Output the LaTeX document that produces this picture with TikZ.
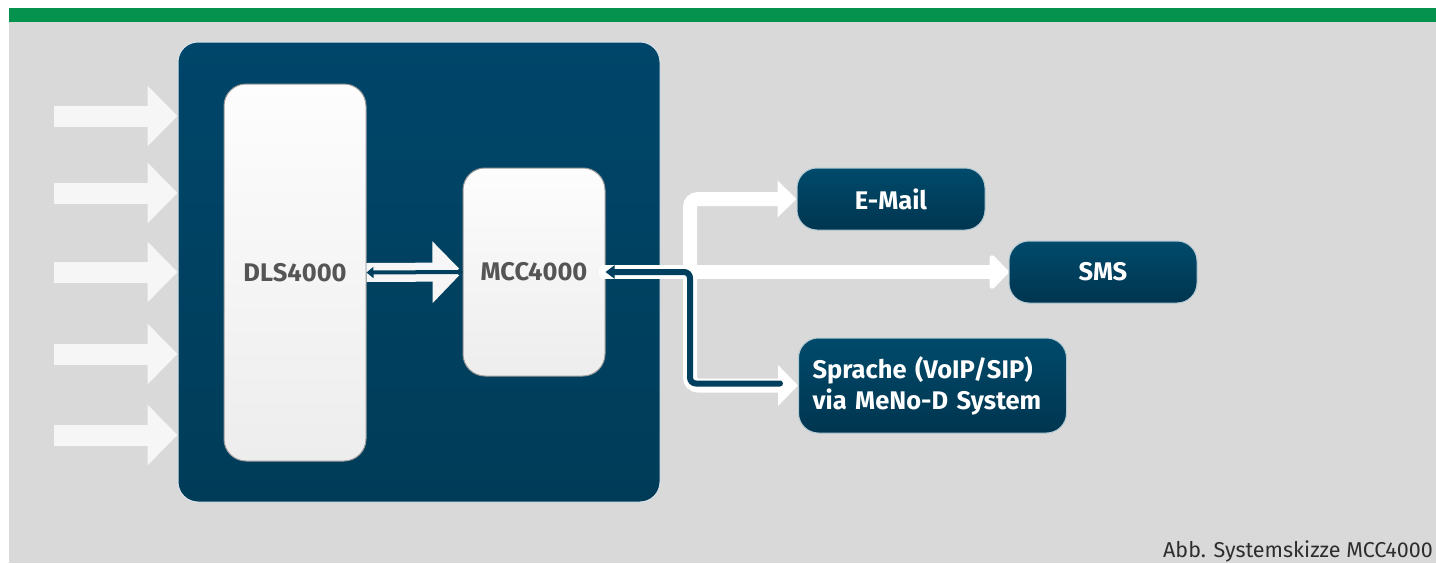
\documentclass[tikz,border=0pt]{standalone}
\usepackage{fontspec}
\setmainfont{Fira Sans}
\usetikzlibrary{arrows.meta,calc}
\definecolor{bggray}{HTML}{D9D9D9}
\definecolor{topgreen}{HTML}{05924E}
\definecolor{navytop}{HTML}{00466A}
\definecolor{navybot}{HTML}{003C58}
\definecolor{navyline}{HTML}{00405E}
\definecolor{outtop}{HTML}{004A6B}
\definecolor{outbot}{HTML}{00354F}
\definecolor{lighttop}{HTML}{FDFDFD}
\definecolor{lightbot}{HTML}{EDEDED}
\definecolor{labelgray}{HTML}{555555}
\definecolor{captiongray}{HTML}{2E2E2E}
\definecolor{arrowwhite}{HTML}{F6F6F6}
\begin{document}
\begin{tikzpicture}[x=1pt,y=-1pt,
  sysbox/.style={rounded corners=20pt, top color=navytop, bottom color=navybot,
    draw=white!85!navytop, line width=1pt, inner sep=0pt},
  lightbox/.style={rounded corners=22pt, top color=lighttop, bottom color=lightbot,
    draw=gray!80, line width=1pt, inner sep=0pt, text=labelgray,
    font=\fontsize{25.5pt}{30pt}\selectfont\bfseries},
  outbox/.style={rounded corners=20pt, top color=outtop, bottom color=outbot,
    draw=white!70!outtop, line width=1pt, inner sep=0pt, text=white,
    font=\fontsize{25.5pt}{31pt}\selectfont\bfseries},
  inarrow/.style={draw=arrowwhite, line width=21pt,
    -{Triangle[length=30pt,width=59pt]}},
  bigarrow/.style={draw=arrowwhite, line width=19pt,
    -{Triangle[length=30pt,width=60pt]}},
  outline/.style={draw=white, line width=14pt},
  darkline/.style={draw=navyline, line width=6pt},
  thinline/.style={draw=navyline, line width=4pt}
]
\useasboundingbox (0,0) rectangle (1436,563);
\fill[white] (0,0) rectangle (1436,563);
\fill[bggray] (9,22) rectangle (1436,563);
\fill[topgreen] (9,8) rectangle (1436,22);

\node[sysbox, minimum width=482pt, minimum height=460pt] (sys) at (419,272) {};
\node[lightbox, minimum width=142pt, minimum height=377pt] (dls) at (295,272.5) {DLS4000};
\node[lightbox, minimum width=142pt, minimum height=208pt] (mcc) at (534,272) {MCC4000};

\foreach \i/\yy in {1/116,2/193,3/272,4/354,5/435}{
  \coordinate (in\i) at (54,\yy);
  \draw[inarrow] (in\i) -- (in\i -| sys.west);
}

\draw[bigarrow] (dls.east) -- (mcc.west);
\draw[thinline, {Triangle[length=7pt,width=11pt]}-{Circle[length=6pt]}] (dls.east) -- (mcc.west);

\node[outbox, minimum width=188pt, minimum height=62pt] (mail) at (891,199) {E-Mail};
\node[outbox, minimum width=188pt, minimum height=62pt] (sms) at (1103,272) {SMS};
\node[outbox, minimum width=268pt, minimum height=95pt, text width=240pt, align=left] (voice) at (932.5,385.5)
  {Sprache (VoIP/SIP)\\via MeNo-D System};

\coordinate (j) at (690,272);
\draw[outline, line cap=round, -{Triangle[length=20pt,width=40pt,round]}] (mcc.east) -- (sms.west);
\draw[outline, rounded corners=8pt, -{Triangle[length=19pt,width=36pt]}] (j) |- (mail.west);
\draw[outline, rounded corners=8pt, -{Triangle[length=20pt,width=40pt]}] (j) |- (voice.west);

\coordinate (dend) at ($(voice.west)+(-18,-2)$);
\draw[darkline, rounded corners=6pt, {Triangle[length=9pt,width=13pt]}-, line cap=round] (mcc.east) -- (j |- mcc.east) |- (dend);

\node[anchor=base east, inner sep=0pt, text=captiongray, font=\fontsize{21.5pt}{24pt}\selectfont] (cap) at (1433,557) {Abb. Systemskizze MCC4000};
\end{tikzpicture}
\end{document}
